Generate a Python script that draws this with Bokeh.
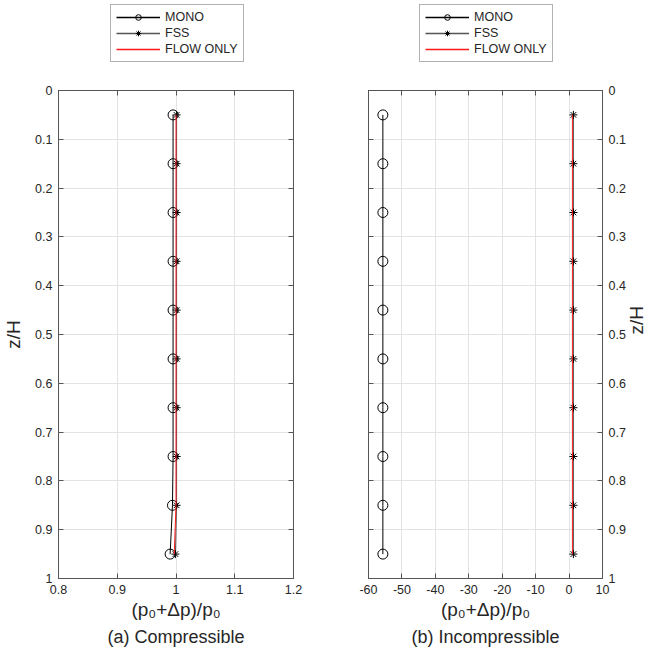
import math
from bokeh.plotting import figure
from bokeh.models import (Range1d, LinearAxis, FixedTicker, Legend, LegendItem, Title)
from bokeh.layouts import row, column
from bokeh.embed import file_html
from bokeh.resources import INLINE

# ---- data ----
z = [0.05, 0.15, 0.25, 0.35, 0.45, 0.55, 0.65, 0.75, 0.85, 0.95]
comp_mono = [0.995, 0.995, 0.995, 0.995, 0.995, 0.995, 0.995, 0.995, 0.994, 0.990]
comp_fss = [1.001, 1.001, 1.001, 1.001, 1.001, 1.001, 1.001, 1.001, 1.001, 0.999]
comp_flow = [1.0, 1.0, 1.0, 1.0, 1.0, 1.0, 1.0, 1.0, 1.0, 0.997]
inc_mono = [-55.7, -55.7, -55.7, -55.7, -55.7, -55.7, -55.7, -55.7, -55.7, -55.7]
inc_fss = [1.3, 1.3, 1.3, 1.3, 1.3, 1.3, 1.3, 1.3, 1.3, 1.3]
inc_flow = [1.0, 1.0, 1.0, 1.0, 1.0, 1.0, 1.0, 1.0, 1.0, 1.0]

y_ticks = [0, 0.1, 0.2, 0.3, 0.4, 0.5, 0.6, 0.7, 0.8, 0.9, 1]
y_labels = ["0", "0.1", "0.2", "0.3", "0.4", "0.5", "0.6", "0.7", "0.8", "0.9", "1"]
xa_ticks = [0.8, 0.9, 1.0, 1.1, 1.2]
xa_labels = ["0.8", "0.9", "1", "1.1", "1.2"]
xb_ticks = [-60, -50, -40, -30, -20, -10, 0, 10]
xb_labels = ["-60", "-50", "-40", "-30", "-20", "-10", "0", "10"]
series_names = ["MONO", "FSS", "FLOW ONLY"]
x_label = "(p\u2080+\u0394p)/p\u2080"
y_label = "z/H"
captions = ["(a) Compressible", "(b) Incompressible"]

FONT = "Liberation Sans"
TXT = "#262626"
BOX = "#555555"
MONO_C, FSS_C, FLOW_C = "black", "#555555", "#ff1a1a"


def style_axis(ax, ticks, labels, show_labels=True):
    ax.ticker = FixedTicker(ticks=ticks)
    ax.major_tick_in = 5
    ax.major_tick_out = 0
    ax.minor_tick_line_color = None
    ax.major_tick_line_color = BOX
    ax.axis_line_color = BOX
    ax.major_label_text_font = FONT
    if show_labels:
        ax.major_label_overrides = {t: l for t, l in zip(ticks, labels)}
        ax.major_label_text_color = TXT
        ax.major_label_text_font_size = "12.5px"
        ax.major_label_standoff = 6
    else:
        ax.major_label_overrides = {t: "" for t in ticks}
        ax.major_label_text_font_size = "1px"
        ax.major_label_standoff = 0
    ax.axis_label_text_font = FONT
    ax.axis_label_text_font_style = "normal"
    ax.axis_label_text_color = TXT


def add_series(f, xvals, lw=1.0):
    mono, fss, flow = xvals
    l1 = f.line(mono, z, line_color=MONO_C, line_width=lw)
    s1 = f.scatter(mono, z, marker="circle", size=10, fill_color=None,
                   line_color="black", line_width=1)
    l2 = f.line(fss, z, line_color=FSS_C, line_width=lw)
    s2 = f.scatter(fss, z, marker="asterisk", size=8, line_color="black", line_width=1)
    l3 = f.line(flow, z, line_color=FLOW_C, line_width=lw)
    return [[l1, s1], [l2, s2], [l3]]


def make_panel(xvals, xticks, xlabels, xr, ylocation, caption, mins):
    ml, mr = mins
    p = figure(frame_width=235 if ylocation == "left" else 234, frame_height=488,
               x_range=Range1d(*xr), y_range=Range1d(1, 0),
               output_backend="svg", toolbar_location=None,
               y_axis_location=ylocation,
               min_border_left=ml, min_border_right=mr,
               min_border_top=20, min_border_bottom=80)
    p.background_fill_color = "white"
    p.outline_line_color = BOX
    p.outline_line_width = 1
    p.grid.grid_line_color = "#e3e3e3"
    p.xgrid.ticker = FixedTicker(ticks=xticks)
    p.ygrid.ticker = FixedTicker(ticks=y_ticks)

    style_axis(p.xaxis[0], xticks, xlabels)
    p.xaxis[0].axis_label = x_label
    p.xaxis[0].axis_label_text_font_size = "19px"
    p.xaxis[0].axis_label_standoff = 2
    style_axis(p.yaxis[0], y_ticks, y_labels)
    p.yaxis[0].axis_label = y_label
    p.yaxis[0].axis_label_text_font_size = "19px"
    p.yaxis[0].axis_label_standoff = 8
    if ylocation == "right":
        p.yaxis[0].axis_label_orientation = math.pi / 2

    top = LinearAxis()
    style_axis(top, xticks, xlabels, show_labels=False)
    p.add_layout(top, "above")
    other = LinearAxis()
    style_axis(other, y_ticks, y_labels, show_labels=False)
    p.add_layout(other, "right" if ylocation == "left" else "left")

    add_series(p, xvals)

    cap = Title(text=caption, align="center", text_font=FONT,
                text_font_size="18px", text_font_style="normal",
                text_color=TXT, offset=0, standoff=5)
    p.add_layout(cap, "below")
    return p


def make_legend_fig(width, xloc, xvals):
    # legend-only strip above each panel; its glyphs lie outside the visible range
    f = figure(width=width, height=70, output_backend="svg", toolbar_location=None,
               x_axis_location=None, y_axis_location=None,
               x_range=Range1d(0, 1), y_range=Range1d(10, 11),
               min_border=0)
    f.outline_line_color = None
    f.grid.visible = False
    rends = add_series(f, xvals, lw=1.3)
    legend = Legend(items=[LegendItem(label=n, renderers=r)
                           for n, r in zip(series_names, rends)],
                    location=(xloc, 8))
    legend.label_text_font = FONT
    legend.label_text_font_size = "12.5px"
    legend.label_text_color = TXT
    legend.glyph_width = 44
    legend.glyph_height = 14
    legend.label_height = 14
    legend.label_standoff = 5
    legend.spacing = 2
    legend.padding = 5
    legend.margin = 0
    legend.border_line_color = "#666666"
    legend.border_line_width = 1
    legend.background_fill_alpha = 1
    f.add_layout(legend, "center")
    return f


p1 = make_panel((comp_mono, comp_fss, comp_flow), xa_ticks, xa_labels, (0.8, 1.2),
                "left", captions[0], (57, 38))
p2 = make_panel((inc_mono, inc_fss, inc_flow), xb_ticks, xb_labels, (-60, 10),
                "right", captions[1], (37, 55))
lg1 = make_legend_fig(330, 110, (comp_mono, comp_fss, comp_flow))
lg2 = make_legend_fig(326, 89, (inc_mono, inc_fss, inc_flow))

layout = column(row(lg1, lg2), row(p1, p2))
open("out.html", "w").write(file_html(layout, INLINE))
